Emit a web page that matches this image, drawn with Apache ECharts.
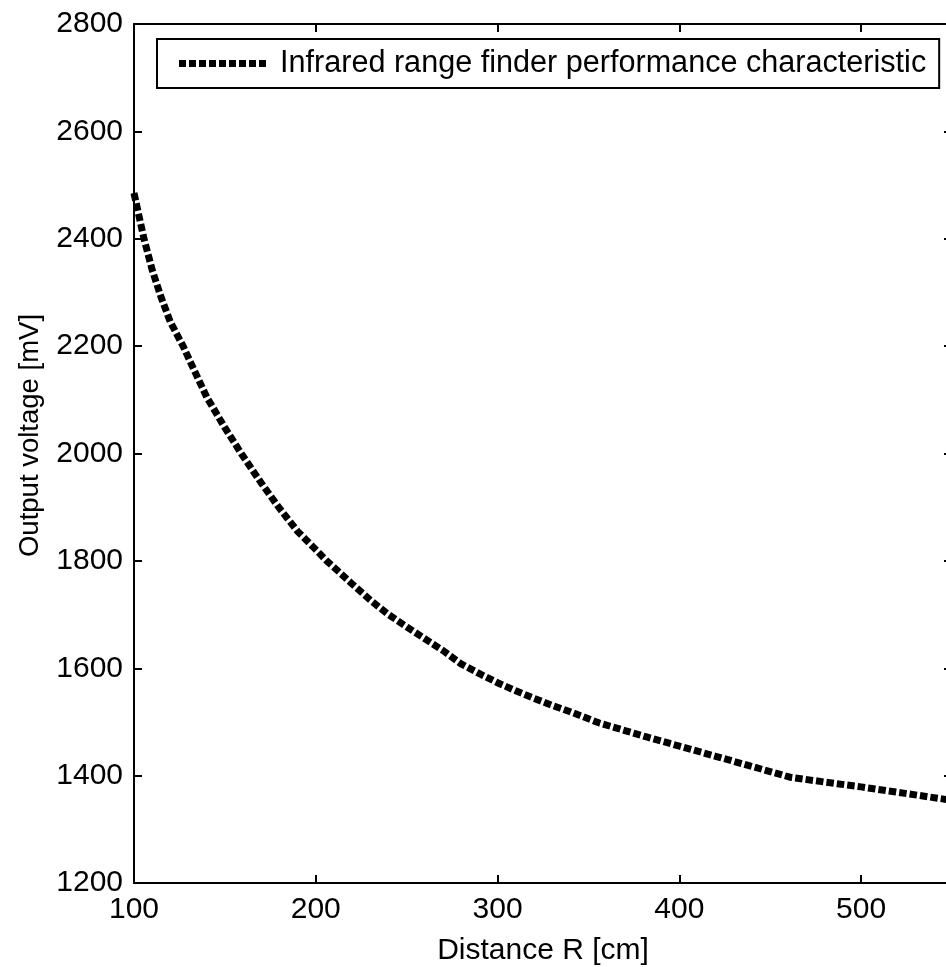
<!DOCTYPE html>
<html>
<head>
<meta charset="utf-8">
<script src="https://cdn.jsdelivr.net/npm/echarts@6/dist/echarts.min.js"></script>
<style>
html,body{margin:0;padding:0;background:#fff;}
#chart{width:946px;height:967px;}
</style>
</head>
<body>
<div id="chart"></div>
<script>
const distance = [100,105.5,110,115,120,127,130,140,150,159,170,180,190,200,206,210,220,230,240,250,260,270,280,290,300,310,320,330,340,356,370,382,400,420,440,461,480,500,520,550];
const voltage  = [2485,2400,2342,2290,2245,2200,2178,2105,2048,2000,1945,1898,1855,1821,1800,1788,1757,1727,1700,1677,1655,1633,1608,1590,1573,1558,1544,1531,1519,1498,1484,1472,1455,1436,1417,1397,1388,1379,1369,1354];
const xTicks = [100,200,300,400,500];
const yTicks = [1200,1400,1600,1800,2000,2200,2400,2600,2800];
const seriesName = 'Infrared range finder performance characteristic';
const xName = 'Distance R [cm]';
const yName = 'Output voltage [mV]';

const FONT = 'Liberation Sans, Arial, sans-serif';
const chart = echarts.init(document.getElementById('chart'), null, {renderer:'canvas'});
const pts = distance.map((d,i)=>[d, voltage[i]]);
const axisLine = {show:true, lineStyle:{color:'#000', width:2}};
const tick = {show:true, inside:true, length:8, lineStyle:{color:'#000', width:2}};
// legend sample: a row of nine square dashes
let iconPath = 'path://';
for (let k = 0; k < 9; k++) iconPath += 'M' + (k*10) + ',0h7v7h-7z';
chart.setOption({
  animation:false,
  backgroundColor:'#fff',
  grid:{left:134, top:24, width:818, height:859, show:false, containLabel:false, outerBoundsMode:'none'},
  legend:{
    show:true, left:157, top:39,
    data:[{name:seriesName, icon:iconPath}],
    itemWidth:87, itemHeight:7,
    padding:[9,13,9,22],
    borderColor:'#000', borderWidth:2, backgroundColor:'#fff',
    itemStyle:{color:'#000'},
    textStyle:{fontFamily:FONT, fontSize:30.6, color:'#000', padding:[0,0,0,9]}
  },
  xAxis:[
    {type:'value', min:100, max:550, interval:100, position:'bottom',
     axisLine, axisTick:tick, splitLine:{show:false},
     axisLabel:{show:true, margin:12, fontFamily:FONT, fontSize:30, color:'#000',
       formatter:v=>xTicks.includes(v)?String(v):''},
     name:xName, nameLocation:'middle', nameGap:53,
     nameTextStyle:{fontFamily:FONT, fontSize:30, color:'#000'}},
    {type:'value', min:100, max:550, interval:100, position:'top',
     axisLine, axisTick:tick, splitLine:{show:false}, axisLabel:{show:false}}
  ],
  yAxis:[
    {type:'value', min:1200, max:2800, interval:200, position:'left',
     axisLine, axisTick:tick, splitLine:{show:false},
     axisLabel:{show:true, margin:11, fontFamily:FONT, fontSize:30, color:'#000',
       formatter:v=>yTicks.includes(v)?String(v):''},
     name:yName, nameLocation:'middle', nameGap:90, nameRotate:90,
     nameTextStyle:{fontFamily:FONT, fontSize:27.5, color:'#000', padding:[0,0,0,36]}},
    {type:'value', min:1200, max:2800, interval:200, position:'right',
     axisLine, axisTick:tick, splitLine:{show:false}, axisLabel:{show:false}}
  ],
  series:[{
    name:seriesName, type:'line', data:pts, showSymbol:false, symbol:'none',
    xAxisIndex:0, yAxisIndex:0, clip:true,
    lineStyle:{color:'#000', width:7, type:[7.5,3], cap:'butt', join:'miter'},
    itemStyle:{color:'#000'}
  }]
});
</script>
</body>
</html>
